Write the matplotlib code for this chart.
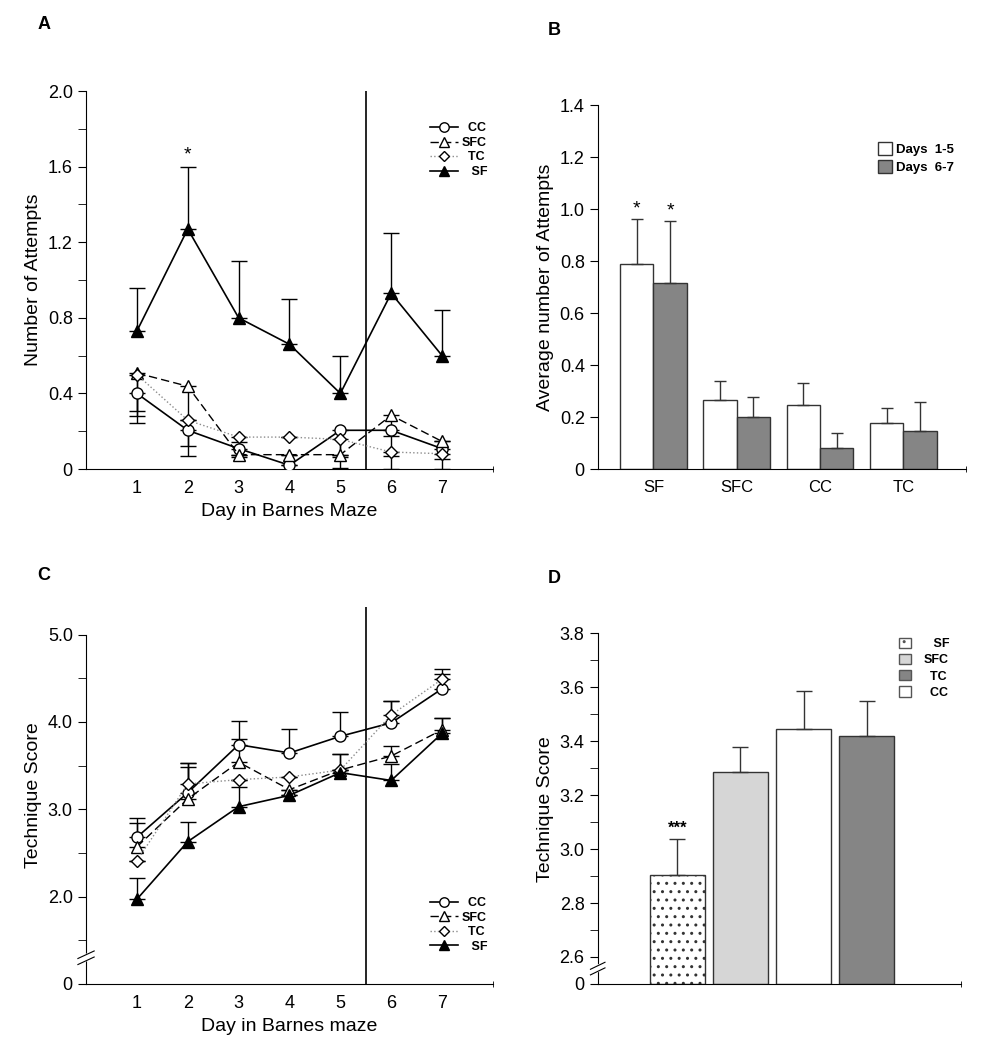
import matplotlib.pyplot as plt
from matplotlib.lines import Line2D
from matplotlib.patches import Patch

plt.rcParams['font.family'] = ['Liberation Sans', 'DejaVu Sans']
plt.rcParams['hatch.color'] = '#666666'

# ---- Datos panel A: numero de intentos por dia ----
days = [1, 2, 3, 4, 5, 6, 7]
att_cc = [0.40, 0.205, 0.108, 0.02, 0.205, 0.205, 0.108]
att_cc_lo = [0.093, 0.083, 0.044, 0.0, 0.198, 0.032, 0.055]
att_sfc = [0.508, 0.438, 0.076, 0.076, 0.076, 0.284, 0.146]
att_sfc_lo = [0.264, 0.369, 0.0, 0.0, 0.0, 0.215, 0.0]
att_tc = [0.50, 0.258, 0.169, 0.169, 0.157, 0.09, 0.081]
att_tc_lo = [0.221, 0.0, 0.026, 0.0, 0.093, 0.09, 0.081]
att_sf = [0.73, 1.27, 0.80, 0.66, 0.40, 0.93, 0.60]
att_sf_hi = [0.23, 0.33, 0.30, 0.24, 0.20, 0.32, 0.24]

# ---- Datos panel B: promedio de intentos ----
groups_b = ['SF', 'SFC', 'CC', 'TC']
avg_d15 = [0.788, 0.264, 0.248, 0.177]
avg_d15_err = [0.173, 0.073, 0.082, 0.057]
avg_d67 = [0.716, 0.199, 0.082, 0.146]
avg_d67_err = [0.236, 0.079, 0.056, 0.110]

# ---- Datos panel C: puntaje de tecnica por dia ----
tech_cc = [2.68, 3.19, 3.74, 3.645, 3.836, 3.99, 4.38]
tech_cc_hi = [0.22, 0.34, 0.27, 0.28, 0.28, 0.25, 0.17]
tech_sfc = [2.57, 3.12, 3.54, 3.225, 3.45, 3.61, 3.91]
tech_sfc_hi = [0.27, 0.36, 0.26, 0.0, 0.18, 0.11, 0.14]
tech_tc = [2.41, 3.29, 3.34, 3.37, 3.45, 4.08, 4.49]
tech_tc_hi = [0.0, 0.24, 0.0, 0.0, 0.0, 0.16, 0.12]
tech_sf = [1.97, 2.63, 3.03, 3.16, 3.42, 3.33, 3.87]
tech_sf_hi = [0.24, 0.22, 0.22, 0.0, 0.21, 0.19, 0.18]

# ---- Datos panel D: puntaje de tecnica promedio ----
groups_d = ['SF', 'SFC', 'CC', 'TC']
score_d = [2.905, 3.285, 3.447, 3.420]
score_d_err = [0.134, 0.092, 0.139, 0.128]

fig = plt.figure(figsize=(9.81, 10.5), dpi=100)

# Estilos de las series de lineas
styles = {
    'CC': dict(color='black', linestyle='-', marker='o', markersize=8,
               markerfacecolor='white', lw=1.2),
    'SFC': dict(color='black', linestyle=(0, (6, 3)), marker='^', markersize=8,
                markerfacecolor='white', lw=1.0),
    'TC': dict(color='#8c8c8c', linestyle=':', marker='D', markersize=6,
               markerfacecolor='white', markeredgecolor='black', lw=1.0),
    'SF': dict(color='black', linestyle='-', marker='^', markersize=8,
               markerfacecolor='black', lw=1.2),
}

# etiquetas con espacios para alinearlas a la derecha
legend_names = ['CC', 'SFC', 'TC', 'SF']
legend_labels = ['  CC', 'SFC', '  TC', '   SF']


def line_legend(ax, loc, anchor):
    handles = [Line2D([], [], **styles[k]) for k in legend_names]
    for h in handles:
        h.set_markersize(h.get_markersize() * 0.85)
    ax.legend(handles, legend_labels, loc=loc, bbox_to_anchor=anchor,
              frameon=False, prop={'weight': 'bold', 'size': 9},
              handlelength=2.2, handletextpad=0.3, labelspacing=0.2,
              borderaxespad=0.0)


def clean_axes(ax):
    ax.spines['top'].set_visible(False)
    ax.spines['right'].set_visible(False)
    ax.tick_params(axis='both', labelsize=13)


def axis_break(ax, y):
    # marca de corte en el eje y (decoracion)
    ax.plot([-0.02, 0.02], [y - 0.012, y + 0.012], transform=ax.transAxes,
            color='white', lw=5, clip_on=False, zorder=5)
    ax.plot([-0.02, 0.02], [y - 0.018, y + 0.002], transform=ax.transAxes,
            color='black', lw=0.8, clip_on=False, zorder=6)
    ax.plot([-0.02, 0.02], [y - 0.002, y + 0.018], transform=ax.transAxes,
            color='black', lw=0.8, clip_on=False, zorder=6)


# ================= Panel A =================
ax = fig.add_axes([0.0877, 0.5533, 0.4148, 0.36])
series_a = [
    ('CC', att_cc, [att_cc_lo, [0] * 7]),
    ('SFC', att_sfc, [att_sfc_lo, [0] * 7]),
    ('TC', att_tc, [att_tc_lo, [0] * 7]),
    ('SF', att_sf, [[0] * 7, att_sf_hi]),
]
for name, vals, err in series_a:
    st = dict(styles[name])
    ax.errorbar(days, vals, yerr=err, capsize=6, ecolor='black',
                elinewidth=1.0, capthick=1.0, zorder=3, **st)
ax.axvline(5.5, color='black', lw=1.2)
ax.text(2, 1.66, '*', ha='center', va='center', fontsize=14)
ax.set_xlim(0, 8)
ax.set_ylim(0, 2.0)
ax.set_xticks(days)
ax.set_xticks([8], minor=True)
ax.set_yticks([0, 0.4, 0.8, 1.2, 1.6, 2.0])
ax.set_yticklabels(['0', '0.4', '0.8', '1.2', '1.6', '2.0'])
ax.set_yticks([0.2, 0.6, 1.0, 1.4, 1.8], minor=True)
clean_axes(ax)
ax.tick_params(axis='x', which='major', length=0, pad=8)
ax.tick_params(axis='x', which='minor', length=5, direction='inout')
ax.tick_params(axis='y', which='both', length=6, direction='out')
ax.set_xlabel('Day in Barnes Maze', fontsize=14)
ax.set_ylabel('Number of Attempts', fontsize=14)
line_legend(ax, 'upper right', (1.0, 0.93))
fig.text(0.038, 0.972, 'A', fontsize=13, fontweight='bold')

# ================= Panel B =================
ax = fig.add_axes([0.6096, 0.5533, 0.3751, 0.3467])
xb = list(range(len(groups_b)))
w = 0.4
ax.bar([x - w / 2 for x in xb], avg_d15, width=w, color='white',
       edgecolor='#333333', lw=1.0, yerr=[[0] * 4, avg_d15_err],
       capsize=4, error_kw=dict(elinewidth=1.0, capthick=1.0, ecolor='#333333'))
ax.bar([x + w / 2 for x in xb], avg_d67, width=w, color='#858585',
       edgecolor='#333333', lw=1.0, yerr=[[0] * 4, avg_d67_err],
       capsize=4, error_kw=dict(elinewidth=1.0, capthick=1.0, ecolor='#333333'))
ax.text(-w / 2, avg_d15[0] + avg_d15_err[0] + 0.04, '*', ha='center',
        va='center', fontsize=14)
ax.text(w / 2, avg_d67[0] + avg_d67_err[0] + 0.04, '*', ha='center',
        va='center', fontsize=14)
ax.set_xlim(-0.664, 3.70)
ax.set_ylim(0, 1.4)
ax.set_xticks(xb)
ax.set_xticklabels(groups_b)
ax.set_xticks([3.75], minor=True)
ax.set_yticks([0, 0.2, 0.4, 0.6, 0.8, 1.0, 1.2, 1.4])
ax.set_yticklabels(['0', '0.2', '0.4', '0.6', '0.8', '1.0', '1.2', '1.4'])
clean_axes(ax)
ax.tick_params(axis='x', which='major', length=0, pad=8, labelsize=12)
ax.tick_params(axis='x', which='minor', length=5, direction='inout')
ax.tick_params(axis='y', length=6, direction='out')
ax.set_ylabel('Average number of Attempts', fontsize=14)
ax.legend([Patch(facecolor='white', edgecolor='#333333'),
           Patch(facecolor='#858585', edgecolor='#333333')],
          ['Days  1-5', 'Days  6-7'], loc='upper right',
          bbox_to_anchor=(1.0, 0.93), frameon=False,
          prop={'weight': 'bold', 'size': 9.5}, handlelength=1.1,
          handleheight=1.1, handletextpad=0.3, labelspacing=0.3)
fig.text(0.558, 0.967, 'B', fontsize=13, fontweight='bold')

# ================= Panel C =================
ax = fig.add_axes([0.0877, 0.0629, 0.4148, 0.3593])
series_c = [
    ('CC', tech_cc, tech_cc_hi),
    ('SFC', tech_sfc, tech_sfc_hi),
    ('TC', tech_tc, tech_tc_hi),
    ('SF', tech_sf, tech_sf_hi),
]
for name, vals, hi in series_c:
    st = dict(styles[name])
    ax.errorbar(days, vals, yerr=[[0] * 7, hi], capsize=6, ecolor='black',
                elinewidth=1.0, capthick=1.0, zorder=3, **st)
ax.axvline(5.5, color='black', lw=1.2)
ax.set_xlim(0, 8)
ax.set_ylim(1.0, 5.32)
ax.spines['left'].set_bounds(1.0, 5.0)
ax.set_xticks(days)
ax.set_xticks([8], minor=True)
ax.set_yticks([1.0, 2.0, 3.0, 4.0, 5.0])
ax.set_yticklabels(['0', '2.0', '3.0', '4.0', '5.0'])
ax.set_yticks([1.5, 2.5, 3.5, 4.5], minor=True)
clean_axes(ax)
ax.tick_params(axis='x', which='major', length=0, pad=8)
ax.tick_params(axis='x', which='minor', length=5, direction='inout')
ax.tick_params(axis='y', which='both', length=6, direction='out')
ax.set_xlabel('Day in Barnes maze', fontsize=14)
ax.set_ylabel('Technique Score', fontsize=14)
axis_break(ax, 0.30 / 4.32)
line_legend(ax, 'lower right', (1.0, 0.07))
fig.text(0.038, 0.448, 'C', fontsize=13, fontweight='bold')

# ================= Panel D =================
ax = fig.add_axes([0.6093, 0.0629, 0.3703, 0.3339])
xd = list(range(len(groups_d)))
face_d = ['white', '#d6d6d6', 'white', '#858585']
hatch_d = ['..', '', '', '']
for i in xd:
    ax.bar(xd[i], score_d[i] - 2.5, bottom=2.5, width=0.87, color=face_d[i],
           edgecolor='#333333', lw=1.0, hatch=hatch_d[i],
           yerr=[[0], [score_d_err[i]]], capsize=6,
           error_kw=dict(elinewidth=1.0, capthick=1.0, ecolor='#333333'))
ax.text(0, score_d[0] + score_d_err[0] + 0.04, '***', ha='center',
        va='center', fontsize=12, fontweight='bold')
ax.set_xlim(-1.257, 4.36)
ax.set_ylim(2.5, 3.8)
ax.set_xticks([])
ax.set_xticks([4.49], minor=True)
ax.set_yticks([2.5, 2.6, 2.8, 3.0, 3.2, 3.4, 3.6, 3.8])
ax.set_yticklabels(['0', '2.6', '2.8', '3.0', '3.2', '3.4', '3.6', '3.8'])
ax.set_yticks([2.7, 2.9, 3.1, 3.3, 3.5, 3.7], minor=True)
clean_axes(ax)
ax.tick_params(axis='x', which='minor', length=5, direction='inout')
ax.tick_params(axis='y', which='both', length=6, direction='out')
ax.set_ylabel('Technique Score', fontsize=14)
axis_break(ax, 0.057 / 1.3)
ax.legend([Patch(facecolor='white', edgecolor='#555555', hatch='..'),
           Patch(facecolor='#d6d6d6', edgecolor='#555555'),
           Patch(facecolor='#858585', edgecolor='#555555'),
           Patch(facecolor='white', edgecolor='#555555')],
          ['   SF', 'SFC', '  TC', '  CC'], loc='upper right',
          bbox_to_anchor=(1.0, 1.02), frameon=False,
          prop={'weight': 'bold', 'size': 9}, handlelength=0.9,
          handleheight=0.9, handletextpad=1.0, labelspacing=0.3)
fig.text(0.558, 0.445, 'D', fontsize=13, fontweight='bold')

plt.savefig('out.png', dpi=100)
